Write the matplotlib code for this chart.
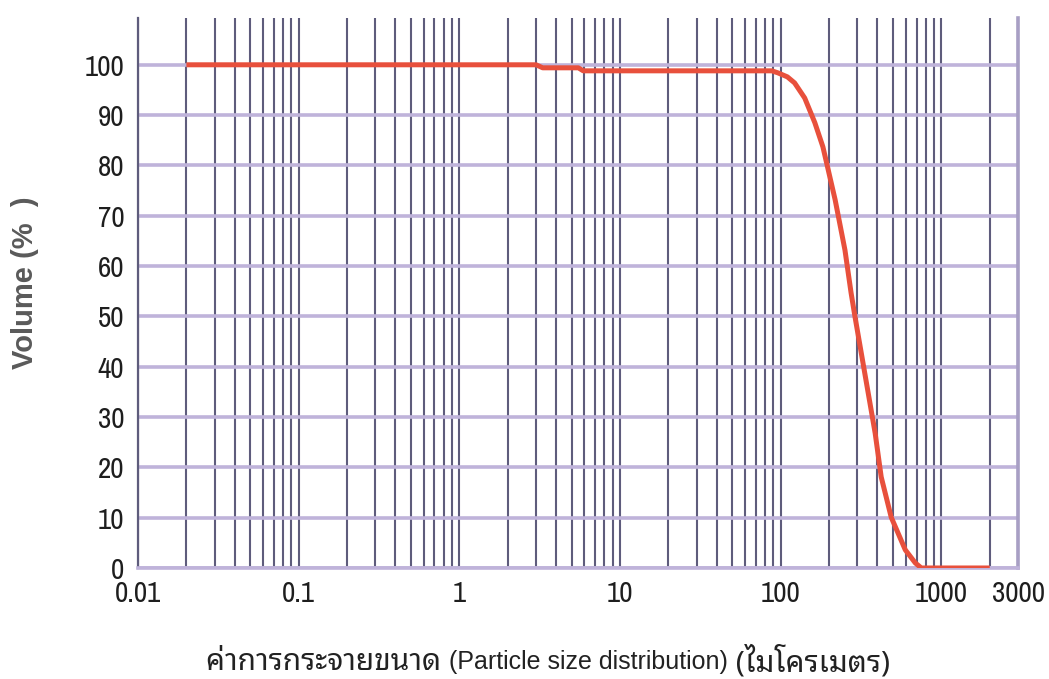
import numpy as np
import matplotlib
matplotlib.use('Agg')
import matplotlib.pyplot as plt
from matplotlib.ticker import LogLocator, FixedLocator, NullFormatter

# ขนาดอนุภาค (ไมโครเมตร) กับ Volume (%) อ่านจากกราฟ
size_um = [0.02, 3.0, 3.3, 5.5, 5.9, 88, 96, 110, 122, 141, 163, 183, 218, 251,
           274, 290, 387, 422, 487, 596, 688, 750, 2000]
volume_pct = [100, 100, 99.4, 99.4, 98.8, 98.8, 98.4, 97.6, 96.4, 93.4, 88.5,
              83.7, 73.2, 63.2, 54.7, 49.9, 26.8, 18.1, 10.1, 3.6, 1.0, 0.0, 0.0]

x_ticks = [0.01, 0.1, 1, 10, 100, 1000, 3000]
x_tick_labels = ['0.01', '0.1', '1', '10', '100', '1000', '3000']
y_ticks = [0, 10, 20, 30, 40, 50, 60, 70, 80, 90, 100]

dark_grid = '#5e5c7c'
light_grid = '#bfb3da'
red = '#e8503c'
tick_font = 'Archivo Narrow'
thai_font = ['Noto Sans Thai Looped', 'Liberation Sans']

fig = plt.figure(figsize=(10.49, 6.79), dpi=100)
ax = fig.add_axes([0.1316, 0.1635, 0.8389, 0.81])

ax.set_xscale('log')
ax.set_xlim(0.01, 3000)
ax.set_ylim(0, 109.3)

# เส้นกริดแนวนอน (สีม่วงอ่อน)
for y in y_ticks:
    ax.axhline(y, color=light_grid, linewidth=2.6, zorder=1)

# เส้นกริดแนวตั้ง (ล็อกสเกล)
ax.xaxis.set_major_locator(FixedLocator(x_ticks))
ax.xaxis.set_minor_locator(LogLocator(base=10, subs=np.arange(2, 10)))
ax.xaxis.set_minor_formatter(NullFormatter())
ax.grid(True, which='both', axis='x', color=dark_grid, linewidth=1.5, zorder=2)
ax.set_axisbelow(True)

ax.plot(size_um, volume_pct, color=red, linewidth=3.6, zorder=4,
        solid_capstyle='butt', solid_joinstyle='round')

ax.set_xticks(x_ticks)
ax.set_xticklabels(x_tick_labels)
ax.set_yticks(y_ticks)
ax.set_yticklabels([str(v) for v in y_ticks])
ax.tick_params(axis='both', which='both', length=0)
ax.tick_params(axis='x', pad=9)
ax.tick_params(axis='y', pad=10)
for lab in ax.get_xticklabels() + ax.get_yticklabels():
    lab.set_fontfamily(tick_font)
    lab.set_fontsize(21)
    lab.set_color('#1e1e1e')

ax.spines['top'].set_visible(False)
ax.spines['left'].set_color(dark_grid)
ax.spines['left'].set_linewidth(1.6)
ax.spines['bottom'].set_color(light_grid)
ax.spines['bottom'].set_linewidth(2.6)
ax.spines['right'].set_color('#a89fc4')
ax.spines['right'].set_linewidth(2.6)

fig.text(25 / 1049, 1 - 283 / 679, 'Volume (%  )', rotation=90, ha='center', va='center',
         fontsize=21, fontweight='bold', color='#5a5a5a', family='Liberation Sans')

# ชื่อแกน x: ภาษาไทยกับภาษาอังกฤษต่อกันเป็นบรรทัดเดียว
yc = 1 - 662 / 679
t1 = fig.text(206 / 1049, yc, 'ค่าการกระจายขนาด ', ha='left', va='center',
              fontsize=21.5, color='#222222', family=thai_font)
t2 = fig.text(0, yc, '(Particle size distribution)', ha='left', va='center',
              fontsize=18, color='#222222', family='Liberation Sans')
t3 = fig.text(0, yc, ' (ไมโครเมตร)', ha='left', va='center',
              fontsize=21.5, color='#222222', family=thai_font)

fig.canvas.draw()
r = fig.canvas.get_renderer()
fw = fig.bbox.width
t2.set_position((t1.get_window_extent(r).x1 / fw, yc))
t3.set_position((t2.get_window_extent(r).x1 / fw, yc))

fig.savefig('out.png', dpi=100)
